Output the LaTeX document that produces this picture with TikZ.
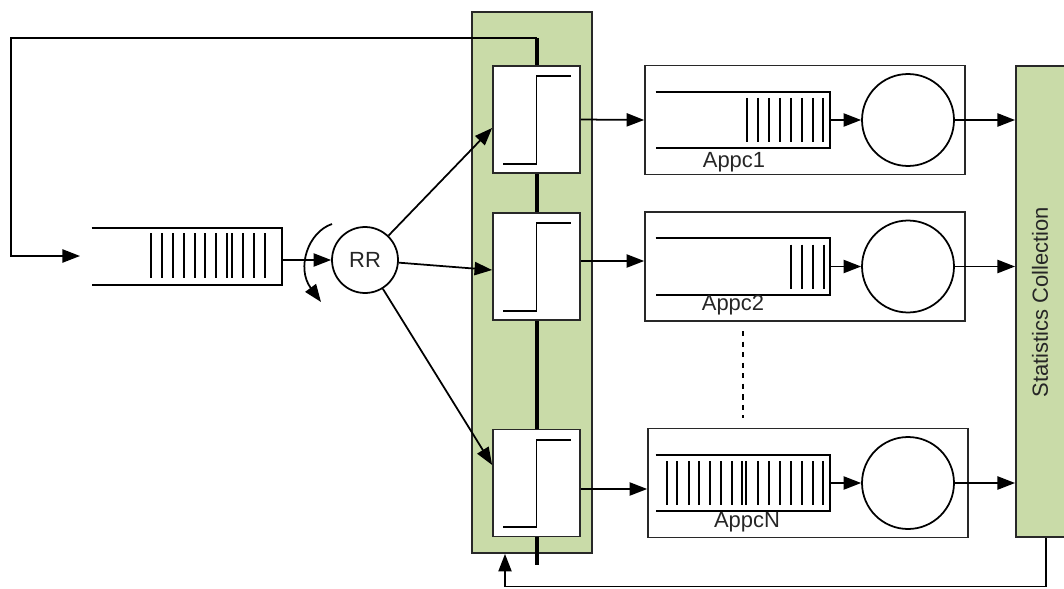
\documentclass[tikz,border=0pt]{standalone}
\usepackage{fontspec}
\setmainfont{Liberation Sans}
\usepackage{xcolor}
\usetikzlibrary{arrows.meta}
\usetikzlibrary{calc}

\definecolor{panelgreen}{RGB}{201,219,168}
\definecolor{edgegray}{RGB}{40,40,40}

\tikzset{
    flow/.style={-{Triangle[length=10pt,width=7.5pt]}, line width=1pt},
    qline/.style={line width=1.05pt},
    bar/.style={line width=1.2pt},
    txt/.style={font=\fontsize{12.5}{14}\selectfont, text=black!85},
    greenbox/.style={draw=edgegray, fill=panelgreen, line width=1.1pt, inner sep=0pt},
    swbox/.style={draw=edgegray, fill=white, line width=1pt, minimum width=1.74cm, minimum height=2.14cm, inner sep=0pt},
    appbox/.style={draw=edgegray, line width=1pt, minimum width=6.4cm, minimum height=2.18cm, inner sep=0pt},
    queue/.style={minimum width=3.48cm, minimum height=1.12cm, inner sep=0pt},
    server/.style={draw, circle, line width=1pt, minimum size=1.84cm, inner sep=0pt},
}

\newcommand{\openqueue}[1]{%
    \draw[qline] (#1.north west) -- (#1.north east) -- (#1.south east) -- (#1.south west);}

\begin{document}
\begin{tikzpicture}[x=0.02cm, y=-0.02cm]
        \useasboundingbox (0,0) rectangle (1064,588);

        % scheduler panel and bus
        \node[greenbox, minimum width=2.4cm, minimum height=10.82cm] (panel) at (532,282.5) {};
        \coordinate (bustop) at (537,38);
        \coordinate (busend) at (537,565);
        \draw[line width=2.6pt] (bustop) -- (busend);

        \foreach \n/\y in {1/119.5,2/266.5,3/483} {
            \node[swbox] (sw\n) at (536.5,\y) {};
            \draw[qline] ($(sw\n.south west)+(11,-10)$) -| ($(sw\n.north)+(0,11)$) -- ($(sw\n.north east)+(-10,11)$);
        }

        % statistics collection
        \node[greenbox, minimum width=1.2cm, minimum height=9.43cm] (stats) at (1046,301.75) {};
        \node[txt, rotate=90] (statslabel) at (1040,302) {Statistics Collection};

        % input queue and round robin
        \node[queue, minimum width=3.8cm, minimum height=1.14cm] (mainq) at (187,256.5) {};
        \openqueue{mainq}
        \foreach \bx in {150.7,161.7,172.7,184,194.7,205.3,216,227.3,232,242.7,254,265.3}
            \draw[bar] (\bx,233) -- (\bx,278);
        \node[draw, circle, line width=1pt, minimum size=1.32cm, inner sep=0pt, txt] (rr) at (365,260) {RR};
        \coordinate (qin) at (80,256);

        \draw[flow] (bustop) -- ++(-526,0) |- (qin);
        \draw[flow] (mainq.east |- rr.west) -- (rr.west);
        \draw[flow] (332,224) .. controls (308,232) and (296,268) .. (321,302);

        \draw[flow] (rr) -- ([yshift=-0.17cm]sw1.west);
        \draw[flow] (rr) -- ([yshift=-0.07cm]sw2.west);
        \draw[flow] (rr) -- ([yshift=0.36cm]sw3.west);

        % application containers
        \node[appbox] (a1) at (805,120) {};
        \node[appbox] (a2) at (805,266.5) {};
        \node[appbox] (aN) at (808,483) {};

        \node[queue] (q1) at (743,120) {};
        \node[queue] (q2) at (743,266.5) {};
        \node[queue] (qN) at (743,483) {};
        \openqueue{q1}
        \openqueue{q2}
        \openqueue{qN}
        \foreach \bx in {747.3,758.3,769.3,780,790.7,801.7,812.7,823.3}
            \draw[bar] (\bx,98) -- (\bx,142);
        \foreach \bx in {791,802,813,824}
            \draw[bar] (\bx,244.5) -- (\bx,288.5);
        \foreach \bx in {666.7,677.3,688.7,699.3,710,721,731.7,742.3,746,758.3,769.3,780,790.7,801.7,812.7,823.3}
            \draw[bar] (\bx,461) -- (\bx,505);

        \node[server] (s1) at (908,120) {};
        \node[server] (s2) at (908,266.5) {};
        \node[server] (sN) at (908,483) {};

        \node[txt] (lab1) at (734,162) {Appc1};
        \node[txt] (lab2) at (733,305) {Appc2};
        \node[txt] (labN) at (747,522) {AppcN};

        \draw[flow] (sw1.east) -- (a1.west);
        \draw[flow] ([yshift=0.11cm]sw2.east) -- ([yshift=0.11cm]a2.west);
        \draw[flow] ([yshift=-0.12cm]sw3.east) -- ([yshift=-0.12cm]aN.west);

        \foreach \k in {1,2,N} {
            \draw[flow] (q\k.east) -- (s\k.west);
            \draw[flow] (s\k.east) -- (s\k.east -| stats.west);
        }

        \draw[line width=0.8pt, dashed] (743,331) -- (743,418);

        % feedback to scheduler
        \draw[flow] (stats.south) -- ++(0,48) -| ([xshift=-0.54cm]panel.south);
\end{tikzpicture}
\end{document}
